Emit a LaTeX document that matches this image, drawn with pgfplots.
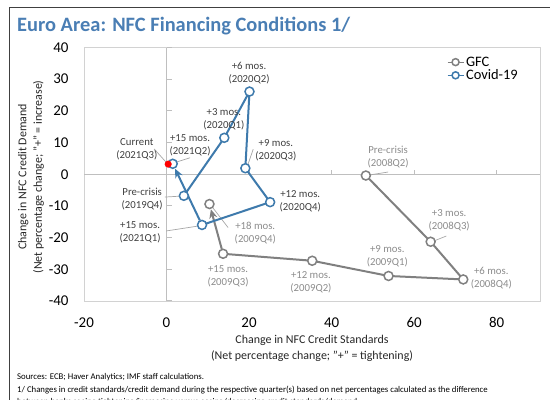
\documentclass[border=0pt]{standalone}
\usepackage{fontspec}
\setmainfont{Carlito}
\usepackage{pgfplots}
\pgfplotsset{compat=1.18}
\usetikzlibrary{arrows.meta}

\definecolor{covid}{RGB}{62,122,172}
\definecolor{gfc}{RGB}{128,128,128}
\definecolor{titleblue}{RGB}{74,126,180}
\definecolor{lblgray}{RGB}{140,140,140}
\definecolor{lbldark}{RGB}{64,64,64}
\definecolor{leader}{RGB}{166,166,166}
\definecolor{zeroline}{RGB}{191,191,191}
\definecolor{boxgray}{RGB}{210,210,210}

\tikzset{
  ptlbl/.style={align=center, inner sep=0pt, font=\fontsize{10.8}{13}\selectfont},
  covlbl/.style={ptlbl, text=lbldark},
  gfclbl/.style={ptlbl, text=lblgray},
  lead/.style={leader, line width=0.7bp},
}

\begin{document}
\begin{tikzpicture}
\path[use as bounding box] (0bp,0bp) rectangle (550bp,400bp);
\clip (0bp,0bp) rectangle (550bp,400bp);
\draw[black!75, line width=1bp] (9bp,-5bp) -- (9bp,392bp) -- (555bp,392bp);
\node[anchor=base west, inner sep=0pt, text=titleblue, font=\fontsize{20.5}{24}\bfseries\selectfont] at (17bp,368bp) {Euro Area: NFC Financing Conditions 1/};

\begin{axis}[
  at={(84bp,99bp)}, anchor=south west,
  scale only axis, width=456bp, height=253.5bp,
  xmin=-20, xmax=90.5, ymin=-40, ymax=40,
  xtick={-20,0,...,80}, ytick={-40,-30,...,40},
  major tick length=0pt,
  axis line style={boxgray, line width=0.8bp},
  tick label style={font=\fontsize{15}{18}\selectfont, /pgf/number format/assume math mode=true},
  yticklabel style={xshift=-12bp},
  xticklabel style={yshift=-13bp},
  clip=false,
  legend cell align=left,
  legend style={draw=none, fill=none, at={(1,1)}, anchor=north east,
    xshift=-20bp, yshift=-7bp, font=\fontsize{14.5}{17}\selectfont,
    row sep=-2bp, inner sep=0pt},
  legend image code/.code={\draw[mark repeat=2,mark phase=2,#1,line width=1bp,mark size=3.5bp] plot coordinates {(0bp,0bp) (8bp,0bp) (16bp,0bp)};},
]
% zero lines with Excel-style crossing ticks
\draw[zeroline, line width=1bp] (axis cs:0,-40) -- (axis cs:0,40);
\draw[zeroline, line width=1bp] (axis cs:-20,0) -- (axis cs:90.5,0);
\pgfplotsinvokeforeach{20,40,60,80}{\draw[zeroline, line width=1bp] (axis cs:#1,0) -- ++(0bp,4.5bp);}
\pgfplotsinvokeforeach{-40,-30,-20,-10,10,20,30,40}{\draw[zeroline, line width=1bp] (axis cs:0,#1) -- ++(5bp,0bp);}

% leader lines
\draw[lead] (axis cs:-3.0,8.0) -- (axis cs:0.1,3.5);
\draw[lead] (axis cs:5.7,5.2) -- (axis cs:1.8,3.6);
\draw[lead] (axis cs:21.0,7.9) -- (axis cs:19.6,2.6);
\draw[lead] (axis cs:-0.4,-7.2) -- (axis cs:3.4,-6.9);
\draw[lead] (axis cs:-0.1,-17.9) -- (axis cs:7.9,-16.3);
\draw[lead] (axis cs:14.9,-16.8) -- (axis cs:11.0,-10.2);
\draw[lead] (axis cs:53.7,0.7) -- (axis cs:49.3,-0.2);
\draw[lead] (axis cs:67.8,-19.5) -- (axis cs:64.9,-21.0);

% GFC
\addplot[gfc, line width=2bp, mark=*, mark size=4.5bp, mark options={fill=white, line width=1.5bp}]
  coordinates {(48.3,-0.4) (64.0,-21.3) (71.9,-33.2) (53.8,-32.1) (35.3,-27.3) (13.7,-25.1)};
\addlegendentry{GFC}
\addplot[gfc, line width=2bp, -{Stealth[length=9bp,width=8bp]}, shorten <=5bp, shorten >=5.5bp, forget plot]
  coordinates {(13.7,-25.1) (10.4,-9.4)};
\addplot[gfc, only marks, mark=*, mark size=4.5bp, mark options={fill=white, line width=1.5bp}, forget plot]
  coordinates {(10.4,-9.4)};

% Covid-19
\addplot[covid, line width=2bp, mark=*, mark size=4.5bp, mark options={fill=white, line width=1.5bp}]
  coordinates {(4.2,-6.8) (14.0,11.5) (20.1,26.1) (19.1,1.9) (25.1,-8.8) (8.6,-16.0)};
\addlegendentry{Covid-19}
\addplot[covid, line width=2bp, -{Stealth[length=9bp,width=8bp]}, shorten <=5bp, shorten >=5.5bp, forget plot]
  coordinates {(8.6,-16.0) (1.5,3.3)};
\addplot[covid, only marks, mark=*, mark size=4.5bp, mark options={fill=white, line width=1.5bp}, forget plot]
  coordinates {(1.5,3.3)};
\addplot[red, only marks, mark=*, mark size=3.3bp, forget plot]
  coordinates {(0.4,3.2)};

% point labels
\node[covlbl] at (axis cs:20.0,32.0) {+6 mos.\\(2020Q2)};
\node[covlbl] at (axis cs:13.9,17.4) {+3 mos.\\(2020Q1)};
\node[covlbl] at (axis cs:-7.2,7.8) {Current\\(2021Q3)};
\node[covlbl] at (axis cs:5.7,9.2) {+15 mos.\\(2021Q2)};
\node[covlbl] at (axis cs:26.5,7.7) {+9 mos.\\(2020Q3)};
\node[covlbl] at (axis cs:-5.9,-7.8) {Pre-crisis\\(2019Q4)};
\node[covlbl] at (axis cs:32.4,-8.4) {+12 mos.\\(2020Q4)};
\node[covlbl] at (axis cs:-6.4,-18.2) {+15 mos.\\(2021Q1)};
\node[gfclbl] at (axis cs:21.5,-18.5) {+18 mos.\\(2009Q4)};
\node[gfclbl] at (axis cs:14.9,-32.2) {+15 mos.\\(2009Q3)};
\node[gfclbl] at (axis cs:35.0,-34.0) {+12 mos.\\(2009Q2)};
\node[gfclbl] at (axis cs:53.5,-25.8) {+9 mos.\\(2009Q1)};
\node[gfclbl] at (axis cs:78.7,-32.7) {+6 mos.\\(2008Q4)};
\node[gfclbl] at (axis cs:68.5,-14.4) {+3 mos.\\(2008Q3)};
\node[gfclbl] at (axis cs:53.7,5.5) {Pre-crisis\\(2008Q2)};
\end{axis}

% axis titles
\node[align=center, font=\fontsize{12}{16}\selectfont, text=black!85] at (312bp,52bp) {Change in NFC Credit Standards\\(Net percentage change; "+" = tightening)};
\node[align=center, rotate=90, font=\fontsize{12}{15.5}\selectfont, text=black!85] at (31bp,223bp) {Change in NFC Credit Demand\\(Net percentage change; "+" = increase)};

% notes
\node[anchor=north west, inner sep=0pt, font=\fontsize{8.8}{12.3}\selectfont, align=left] at (17bp,26.5bp) {Sources: ECB; Haver Analytics; IMF staff calculations.\\1/ Changes in credit standards/credit demand during the respective quarter(s) based on net percentages calculated as the difference\\between banks seeing tightening/increasing versus easing/decreasing credit standards/demand.};
\end{tikzpicture}
\end{document}
